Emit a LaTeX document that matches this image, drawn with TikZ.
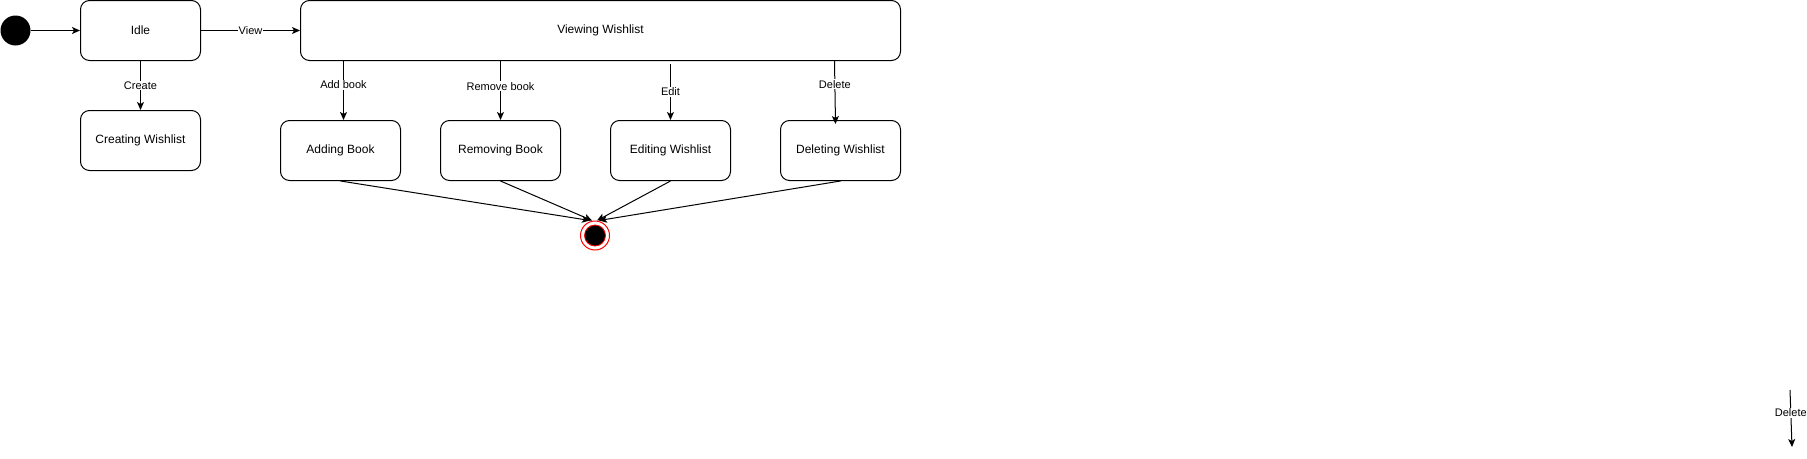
\documentclass[tikz,border=0pt]{standalone}
\usepackage{fontspec}
\setmainfont{Liberation Sans}
\usetikzlibrary{arrows.meta}

\tikzset{
  state/.style={draw, rounded corners=9pt, line width=1pt, minimum width=120pt,
    minimum height=60pt, inner sep=0pt, font=\fontsize{12}{14}\selectfont},
  trans/.style={line width=1pt, -{Stealth[length=8pt,width=7pt,inset=2pt]}},
  lbl/.style={fill=white, inner sep=1pt, font=\fontsize{11}{13}\selectfont}
}

\begin{document}
\begin{tikzpicture}[x=1pt,y=-1pt]
    \useasboundingbox (0,0) rectangle (1807,458);
    % states
    \node[circle, fill=black, minimum size=30pt, inner sep=0pt] (start) at (15.5,30.5) {};
    \node[state] (idle) at (140.5,30.5) {Idle};
    \node[state] (creating) at (140.5,140.5) {Creating Wishlist};
    \node[state, minimum width=600pt] (viewing) at (600.5,30.5) {Viewing Wishlist};
    \node[state] (adding) at (340.5,150.5) {Adding Book};
    \node[state] (removing) at (500.5,150.5) {Removing Book};
    \node[state] (editing) at (670.5,150.5) {Editing Wishlist};
    \node[state] (deleting) at (840.5,150.5) {Deleting Wishlist};
    \node[circle, draw=red, fill=white, line width=1pt, minimum size=29pt, inner sep=0pt] (final) at (595,235.5) {};
    \filldraw[red, fill=black, line width=0.8pt] (final.center) circle (10.5pt);
    % transitions
    \draw[trans] (start) -- (idle);
    \draw[trans] (idle) -- (viewing) node[lbl, midway] {View};
    \draw[trans] (idle) -- (creating) node[lbl, midway] {Create};
    \draw[trans] ([xshift=3pt]adding.north |- viewing.south) -- ([xshift=3pt]adding.north)
      node[lbl, pos=0.4] {Add book};
    \draw[trans] (removing.north |- viewing.south) -- (removing.north)
      node[lbl, pos=0.43] {Remove book};
    \draw[trans] ([yshift=-3pt]editing.north |- viewing.south) -- (editing.north)
      node[lbl, midway] {Edit};
    \draw[trans] ([xshift=-6pt]deleting.north |- viewing.south) -- ([xshift=-5pt,yshift=-4pt]deleting.north)
      node[lbl, pos=0.37] {Delete};
    \draw[trans] (adding.south) -- ([xshift=-5pt]final.north);
    \draw[trans] (removing.south) -- ([xshift=-3pt]final.north);
    \draw[trans] (editing.south) -- ([xshift=2pt]final.north);
    \draw[trans] (deleting.south) -- ([xshift=4pt]final.north);
    % loose transition
    \coordinate (loosetop) at (1790,390);
    \coordinate (loosebot) at (1792,447);
    \draw[trans] (loosetop) -- (loosebot) node[lbl, pos=0.4] {Delete};
\end{tikzpicture}
\end{document}
